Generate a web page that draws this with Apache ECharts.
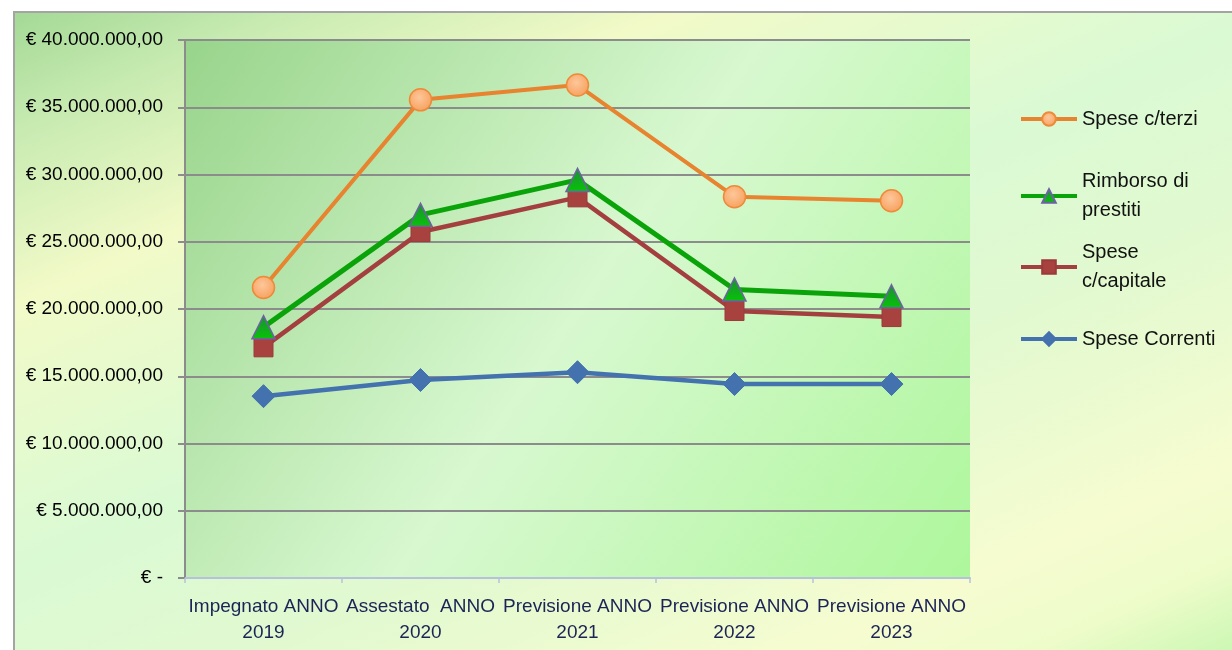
<!DOCTYPE html>
<html>
<head>
<meta charset="utf-8">
<script src="https://cdn.jsdelivr.net/npm/echarts@6/dist/echarts.min.js"></script>
<style>
  html, body { margin: 0; padding: 0; background: #ffffff; }
  #wrap { position: relative; width: 1232px; height: 650px; overflow: hidden; }
  #bg {
    position: absolute; left: 13px; top: 11px; width: 1240px; height: 660px;
    border-left: 2px solid #a4a4a4; border-top: 2px solid #a4a4a4;
    background: linear-gradient(156deg, #a4d996 0%, #c8ebb2 10%, #f2fac8 24%, #dafad4 46%, #e2f9d0 62%, #f6fcd0 82%, #eefcca 90%, #c0f6ac 100%);
  }
  #chart { position: absolute; left: 0; top: 0; width: 1232px; height: 650px; }
</style>
</head>
<body>
<div id="wrap">
  <div id="bg"></div>
  <div id="chart"></div>
</div>
<script>
// ---- data ----
const categories = ['Impegnato ANNO\n2019', 'Assestato  ANNO\n2020', 'Previsione ANNO\n2021', 'Previsione ANNO\n2022', 'Previsione ANNO\n2023'];
const speseTerzi    = [21600000, 35550000, 36650000, 28350000, 28050000];
const rimborso      = [18650000, 27000000, 29600000, 21450000, 20950000];
const speseCapitale = [17150000, 25720000, 28300000, 19850000, 19400000];
const speseCorrenti = [13520000, 14720000, 15300000, 14420000, 14420000];
const seriesNames = ['Spese c/terzi', 'Rimborso di prestiti', 'Spese c/capitale', 'Spese Correnti'];
const legendLabels = ['Spese c/terzi', 'Rimborso di\nprestiti', 'Spese\nc/capitale', 'Spese Correnti'];
const yTickValues = [0, 5000000, 10000000, 15000000, 20000000, 25000000, 30000000, 35000000, 40000000];
const yTickLabels = ['€ -', '€ 5.000.000,00', '€ 10.000.000,00', '€ 15.000.000,00', '€ 20.000.000,00', '€ 25.000.000,00', '€ 30.000.000,00', '€ 35.000.000,00', '€ 40.000.000,00'];

const chart = echarts.init(document.getElementById('chart'), null, { renderer: 'canvas' });
const FONT = 'Liberation Sans';

function legendFor(idx, top, twoLine) {
  return {
    data: [seriesNames[idx]],
    left: 1019, top: top, padding: 0,
    orient: 'vertical',
    itemWidth: 56, itemHeight: 17,
    lineStyle: { width: 4 },
    formatter: function () { return legendLabels[idx]; },
    textStyle: {
      fontFamily: FONT, fontSize: 20, color: '#111111', lineHeight: 29,
      padding: twoLine ? [29, 0, 0, 0] : 0
    },
    selectedMode: false
  };
}

const option = {
  backgroundColor: 'transparent',
  animation: false,
  grid: {
    left: 185, top: 40, right: 262, bottom: 72,
    show: true, borderWidth: 0,
    backgroundColor: {
      type: 'linear', x: 0, y: 0, x2: 1, y2: 1,
      colorStops: [
        { offset: 0, color: '#98d48b' },
        { offset: 0.5, color: '#d8f8d0' },
        { offset: 1, color: '#aef79c' }
      ]
    }
  },
  legend: [
    legendFor(0, 104.5, false),
    legendFor(1, 152.5, true),
    legendFor(2, 223.5, true),
    legendFor(3, 324.5, false)
  ],
  xAxis: {
    type: 'category',
    data: categories,
    boundaryGap: true,
    axisLine: { lineStyle: { color: '#b6c2dc', width: 2 } },
    axisTick: { show: true, length: 5, lineStyle: { color: '#b6c2dc', width: 1.5 } },
    axisLabel: {
      fontFamily: FONT, fontSize: 19, color: '#1c2456', lineHeight: 26, margin: 16, interval: 0
    },
    splitLine: { show: false }
  },
  yAxis: {
    type: 'value',
    min: 0, max: 40000000, interval: 5000000,
    axisLine: { show: true, lineStyle: { color: '#8c8c8c', width: 2 } },
    axisTick: { show: true, length: 7, lineStyle: { color: '#8c8c8c', width: 2 } },
    axisLabel: {
      fontFamily: FONT, fontSize: 19, color: '#000000', margin: 22,
      formatter: function (v) {
        const i = yTickValues.indexOf(v);
        return i >= 0 ? yTickLabels[i] : '';
      }
    },
    splitLine: { show: true, lineStyle: { color: '#8c8c8c', width: 2 } }
  },
  series: [
    {
      name: seriesNames[3], type: 'line', data: speseCorrenti, z: 2,
      symbol: 'diamond', symbolSize: 23,
      lineStyle: { color: '#4472ae', width: 4.5 },
      itemStyle: { color: '#4472ae', borderColor: '#4472ae', borderWidth: 1 }
    },
    {
      name: seriesNames[2], type: 'line', data: speseCapitale, z: 3,
      symbol: 'rect', symbolSize: 19,
      lineStyle: { color: '#a43f3f', width: 4.5 },
      itemStyle: { color: '#a8423f', borderColor: '#9c3a3a', borderWidth: 1 }
    },
    {
      name: seriesNames[1], type: 'line', data: rimborso, z: 4,
      symbol: 'triangle', symbolSize: 23,
      lineStyle: { color: '#0aa40a', width: 5 },
      itemStyle: {
        color: {
          type: 'linear', x: 0, y: 0, x2: 0, y2: 1,
          colorStops: [{ offset: 0, color: '#1f8c3a' }, { offset: 1, color: '#06c406' }]
        },
        borderColor: '#6e62a4', borderWidth: 1.5
      }
    },
    {
      name: seriesNames[0], type: 'line', data: speseTerzi, z: 5,
      symbol: 'circle', symbolSize: 22,
      lineStyle: { color: '#e8832f', width: 4 },
      itemStyle: {
        color: {
          type: 'radial', x: 0.45, y: 0.4, r: 0.6,
          colorStops: [{ offset: 0, color: '#fdc79a' }, { offset: 1, color: '#f7a15e' }]
        },
        borderColor: '#ee8a3a', borderWidth: 1.5
      }
    }
  ]
};
chart.setOption(option);
</script>
</body>
</html>
